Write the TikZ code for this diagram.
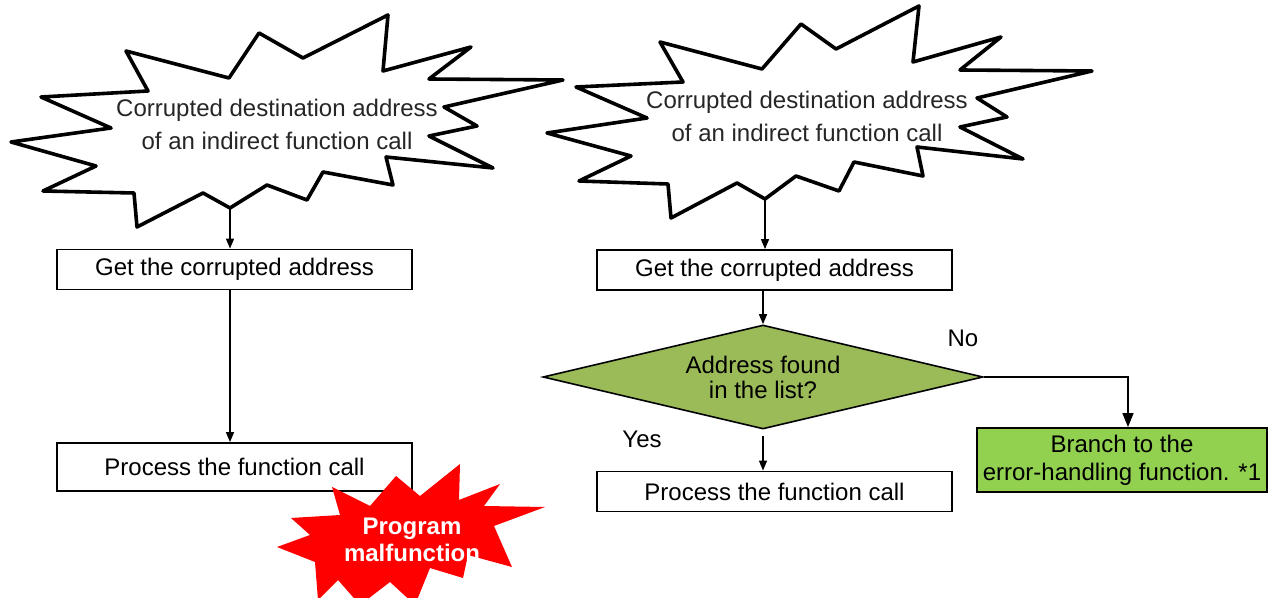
\documentclass[tikz,border=0pt]{standalone}
\usepackage{fontspec}
\setmainfont{Liberation Sans}
\usetikzlibrary{arrows.meta}
\usetikzlibrary{shapes.geometric}
\definecolor{checkgreen}{HTML}{9BBB59}
\definecolor{branchgreen}{HTML}{92D050}
\definecolor{alarmred}{HTML}{FF0000}
\begin{document}
\begin{tikzpicture}[x=0.5pt, y=-0.5pt,
        burst/.style={draw, line width=1.8pt, line join=round, fill=white},
        bursttext/.style={align=center, text=black!85, font=\fontsize{12}{16.5}\selectfont},
        stepbox/.style={draw, line width=0.9pt, minimum width=177.5pt, minimum height=20pt, inner sep=0pt, font=\fontsize{12}{14}\selectfont},
        flow/.style={-{Triangle[length=5pt,width=4pt]}, line width=0.7pt},
        bigflow/.style={-{Triangle[length=7pt,width=5.5pt]}, line width=0.7pt}]
            \useasboundingbox (0,0) rectangle (1270,598);
            % left: without the check
            \draw [burst] (126,51) -- (229,78) -- (259,33) -- (303,58) -- (388,15) -- (383,71) -- (471,47) -- (429,79) -- (563,80) -- (444,107) -- (477,126) -- (429,136) -- (493,168) -- (386,157) -- (393,185) -- (323,172) -- (307,200) -- (267,185) -- (230,208) -- (203,193) -- (137,227) -- (134,193) -- (43,191) -- (96,166) -- (11,142) -- (111,128) -- (41,97) -- (148,91) -- cycle;
            \node [bursttext] (lcause) at (277,124) {Corrupted destination address\\of an indirect function call};
            \coordinate (lcauseout) at (230,208);
            \node [stepbox] (lget) at (234.5,269.5) {Get the corrupted address};
            \node [stepbox, minimum height=24pt] (lproc) at (234.5,467) {Process the function call};
            \draw [flow] (lcauseout) -- (lcauseout |- lget.north);
            \draw [flow] (lget.south -| lcauseout) -- (lproc.north -| lcauseout);
            \fill [alarmred] (332,487) -- (370,506) -- (396,476) -- (420,496) -- (460,464) -- (459,500) -- (500,484) -- (484,506) -- (545,507) -- (494,526) -- (512,567) -- (468,555) -- (463,578) -- (430,568) -- (415,605) -- (390,582) -- (360,605) -- (338,580) -- (318,600) -- (315,562) -- (277,547) -- (310,535) -- (291,518) -- (340,515) -- cycle;
            \node [align=center, text=white, font=\fontsize{12}{13.5}\selectfont\bfseries] (lfail) at (412,540) {Program\\malfunction};
            % right: with the check
            \draw [burst] (660,42) -- (762,69) -- (801,24) -- (836,49) -- (919,6) -- (913,62) -- (1001,37) -- (960,70) -- (1092,71) -- (977,98) -- (1007,117) -- (960,127) -- (1023,159) -- (917,147) -- (923,176) -- (854,162) -- (839,191) -- (796,176) -- (765,199) -- (737,183) -- (671,218) -- (668,184) -- (579,181) -- (631,156) -- (547,133) -- (647,118) -- (576,87) -- (683,82) -- cycle;
            \node [bursttext] (rcause) at (807,116) {Corrupted destination address\\of an indirect function call};
            \coordinate (rcauseout) at (765,199);
            \node [stepbox] (rget) at (774.5,270) {Get the corrupted address};
            \node [diamond, aspect=4.2, draw, line width=0.8pt, fill=checkgreen, minimum width=220pt, minimum height=52pt, inner sep=1pt, align=center, font=\fontsize{12}{12.5}\selectfont] (rcheck) at (763,377) {Address found\\in the list?};
            \node [stepbox] (rproc) at (774.5,491.5) {Process the function call};
            \node [draw, line width=0.9pt, fill=branchgreen, minimum width=145pt, minimum height=32pt, inner sep=0pt, align=center, font=\fontsize{12}{14}\selectfont] (rerr) at (1122,460) {Branch to the\\error-handling function. *1};
            \draw [flow] (rcauseout) -- (rcauseout |- rget.north);
            \draw [flow] (rget.south -| rcheck) -- (rcheck.north);
            \draw [flow, shorten <=3pt] (rcheck.south) -- (rcheck.south |- rproc.north);
            \draw [bigflow] (rcheck.east) -| ([xshift=3pt]rerr.north);
            \node [font=\fontsize{12}{14}\selectfont] (no) at (963,338) {No};
            \node [font=\fontsize{12}{14}\selectfont] (yes) at (642,439) {Yes};
        \end{tikzpicture}
\end{document}
